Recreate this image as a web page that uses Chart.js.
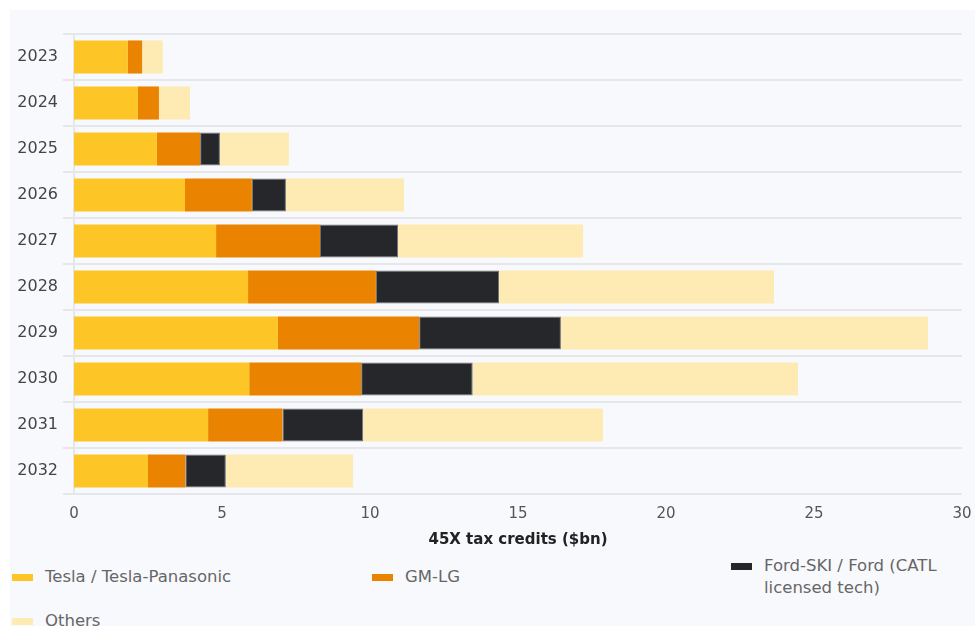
<!DOCTYPE html>
<html>
<head>
<meta charset="utf-8">
<script src="https://cdn.jsdelivr.net/npm/chart.js@4.4.1/dist/chart.umd.min.js"></script>
<style>
body{margin:0;background:#fff;width:975px;height:626px;overflow:hidden;font-family:"DejaVu Sans",sans-serif;}
#panel{position:absolute;left:10px;top:10px;width:965px;height:616px;background:#f8f9fd;}
#wrap{position:absolute;left:0;top:0;width:975px;height:554px;}
#legend{position:absolute;left:12px;top:560px;width:960px;}
.item{position:absolute;display:flex;align-items:flex-start;color:#666;font-size:16.5px;line-height:22px;}
.box{width:21px;height:7px;margin-right:12px;margin-top:8px;flex:none;}
</style>
</head>
<body>
<div id="panel"></div>
<div id="wrap"><canvas id="myChart"></canvas></div>
<div id="legend"></div>
<script>
var years=["2023","2024","2025","2026","2027","2028","2029","2030","2031","2032"];
var tesla=[1.82,2.16,2.80,3.75,4.80,5.88,6.89,5.92,4.53,2.50];
var gmlg=[0.48,0.71,1.46,2.26,3.51,4.32,4.77,3.78,2.51,1.26];
var ford=[0,0,0.67,1.15,2.64,4.16,4.79,3.77,2.73,1.37];
var others=[0.70,1.05,2.33,3.99,6.25,9.29,12.40,10.99,8.10,4.30];
var seriesNames=["Tesla / Tesla-Panasonic","GM-LG","Ford-SKI / Ford (CATL licensed tech)","Others"];
var seriesColors=["#fdc526","#e98300","#25272b","#feeab3"];
var xTicks=[0,5,10,15,20,25,30];

var fontFam='"DejaVu Sans", sans-serif';

var chart=new Chart("myChart",{
  type:"bar",
  data:{
    labels:years,
    datasets:[
      {label:seriesNames[0],data:tesla,backgroundColor:seriesColors[0]},
      {label:seriesNames[1],data:gmlg,backgroundColor:seriesColors[1]},
      {label:seriesNames[2],data:ford,backgroundColor:seriesColors[2],borderColor:"#6d7075",borderWidth:1,borderSkipped:false},
      {label:seriesNames[3],data:others,backgroundColor:seriesColors[3]}
    ]
  },
  options:{
    indexAxis:"y",
    responsive:true,
    maintainAspectRatio:false,
    animation:false,
    layout:{padding:{top:34,right:13,left:0,bottom:0}},
    datasets:{bar:{categoryPercentage:1,barPercentage:0.72}},
    plugins:{legend:{display:false},tooltip:{enabled:false}},
    scales:{
      x:{
        stacked:true,min:0,max:30,
        afterBuildTicks:function(s){s.ticks=xTicks.map(function(v){return {value:v};});},
        grid:{display:false,drawTicks:false},
        border:{display:false},
        ticks:{padding:11,color:"#555",font:{family:fontFam,size:15}},
        title:{display:true,text:"45X tax credits ($bn)",color:"#222",padding:{top:4,bottom:5},font:{family:fontFam,size:15,weight:"bold"}},
        afterFit:function(s){s.height=60;s.paddingLeft=0;s.paddingRight=0;}
      },
      y:{
        stacked:true,
        grid:{color:"#e6e7ec",lineWidth:2,tickLength:11,offset:true},
        border:{display:true,color:"#e6e7ec",width:2},
        ticks:{padding:5,color:"#444",font:{family:fontFam,size:16}},
        afterFit:function(s){s.width=74;}
      }
    }
  }
});

// html legend in three columns, like the original
var legendPos=[[0,6],[360,6],[719,-5],[0,50]];
var lg=document.getElementById("legend");
seriesNames.forEach(function(n,i){
  var d=document.createElement("div");
  d.className="item";
  d.style.left=legendPos[i][0]+"px";
  d.style.top=legendPos[i][1]+"px";
  if(i==2){d.style.width="240px";}
  d.innerHTML='<span class="box" style="background:'+seriesColors[i]+'"></span><span>'+n+'</span>';
  lg.appendChild(d);
});
</script>
</body>
</html>
